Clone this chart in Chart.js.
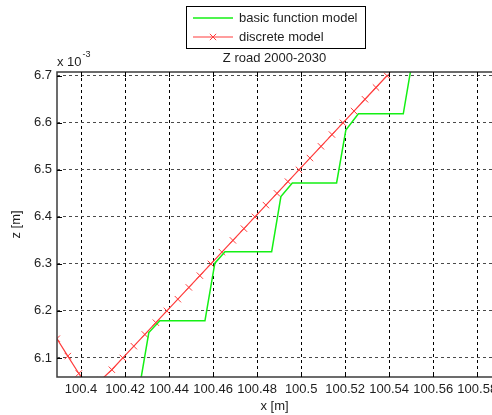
<!DOCTYPE html>
<html>
<head>
<meta charset="utf-8">
<title>Z road 2000-2030</title>
<script src="https://cdn.jsdelivr.net/npm/chart.js@4.4.1/dist/chart.umd.min.js"></script>
<style>
  html, body { margin:0; padding:0; background:#fff; overflow:hidden; }
  #wrap { width:520px; height:415px; }
</style>
</head>
<body>
<div id="wrap"><canvas id="zChart" width="520" height="415"></canvas></div>
<script>
// Road profile z (in 1e-3 m, see the "x 10^-3" multiplier) against chainage x (m).

// basic function model: stepped profile
const basicX = [100.4060, 100.4264, 100.4308, 100.4358, 100.4563, 100.4608, 100.4654, 100.4866,
                100.4908, 100.4960, 100.5161, 100.5203, 100.5260, 100.5464, 100.5506, 100.5556];
const basicZ = [6.033, 6.033, 6.154, 6.179, 6.179, 6.3015, 6.326, 6.326,
                6.443, 6.472, 6.472, 6.5845, 6.619, 6.619, 6.735, 6.762];

// discrete model: one sample every 5 mm
const discreteX = [100.384, 100.389, 100.394, 100.399, 100.404, 100.409, 100.414, 100.419,
                   100.424, 100.429, 100.434, 100.439, 100.444, 100.449, 100.454, 100.459,
                   100.464, 100.469, 100.474, 100.479, 100.484, 100.489, 100.494, 100.499,
                   100.504, 100.509, 100.514, 100.519, 100.524, 100.529, 100.534, 100.539];
const discreteZ = [6.178, 6.141, 6.104, 6.067, 6.030, 6.053, 6.075, 6.100,
                   6.125, 6.150, 6.175, 6.200, 6.225, 6.250, 6.275, 6.300,
                   6.325, 6.350, 6.375, 6.400, 6.425, 6.450, 6.475, 6.500,
                   6.525, 6.550, 6.575, 6.600, 6.625, 6.650, 6.675, 6.700];

// axes (zoomed view)
const X_MIN = 100.38909, X_MAX = 100.5867;
const Y_MIN = 6.0595, Y_MAX = 6.708;
const xTicks = [100.4, 100.42, 100.44, 100.46, 100.48, 100.5, 100.52, 100.54, 100.56, 100.58];
const xTickLabels = ['100.4', '100.42', '100.44', '100.46', '100.48', '100.5', '100.52', '100.54', '100.56', '100.58'];
const yTicks = [6.1, 6.2, 6.3, 6.4, 6.5, 6.6, 6.7];
const yTickLabels = ['6.1', '6.2', '6.3', '6.4', '6.5', '6.6', '6.7'];

const GREEN = '#14f014';
const RED = '#ff3c3c';
const TXT = '#1e1e1e';
const FONT_FAMILY = '"Liberation Sans", Arial, Helvetica, sans-serif';
const font13 = {family: FONT_FAMILY, size: 13};

const toPts = (xs, zs) => xs.map((x, i) => ({x: x, y: zs[i]}));

// matlab-like frame: box, inward ticks, title, exponent and boxed legend
const framePlugin = {
  id: 'matlabFrame',
  afterDatasetsDraw(chart){
    const {ctx, chartArea: a, scales} = chart;
    ctx.save();
    ctx.strokeStyle = '#3c3c3c';
    ctx.lineWidth = 1.5;
    // the right edge of the axes box falls just outside the view
    ctx.beginPath();
    ctx.moveTo(a.right + 2, a.top); ctx.lineTo(a.left, a.top);
    ctx.lineTo(a.left, a.bottom); ctx.lineTo(a.right + 2, a.bottom);
    ctx.stroke();
    ctx.lineWidth = 1;
    ctx.strokeStyle = '#000';
    ctx.beginPath();
    scales.x.ticks.forEach(t => {
      const px = Math.round(scales.x.getPixelForValue(t.value)) + 0.5;
      ctx.moveTo(px, a.bottom); ctx.lineTo(px, a.bottom - 5);
      ctx.moveTo(px, a.top); ctx.lineTo(px, a.top + 5);
    });
    scales.y.ticks.forEach(t => {
      const py = Math.round(scales.y.getPixelForValue(t.value)) + 0.5;
      ctx.moveTo(a.left, py); ctx.lineTo(a.left + 5, py);
    });
    ctx.stroke();
    ctx.restore();
  },
  afterDraw(chart){
    const {ctx, chartArea: a} = chart;
    ctx.save();
    ctx.fillStyle = TXT;
    ctx.font = '13px ' + FONT_FAMILY;
    ctx.textBaseline = 'middle';
    ctx.textAlign = 'center';
    ctx.fillText('Z road 2000-2030', (a.left + a.right) / 2, 58);

    ctx.textAlign = 'left';
    ctx.fillText('x 10', a.left, 62);
    const w = ctx.measureText('x 10').width;
    ctx.font = '9px ' + FONT_FAMILY;
    ctx.fillText('-3', a.left + w + 1, 55);

    // legend
    const lx = 186, ly = 6, lw = 179, lh = 42;
    ctx.fillStyle = '#fff';
    ctx.fillRect(lx, ly, lw, lh);
    ctx.strokeStyle = '#000';
    ctx.lineWidth = 1;
    ctx.strokeRect(lx + 0.5, ly + 0.5, lw, lh);
    const rows = [18, 37];
    chart.data.datasets.forEach((ds, i) => {
      const y = rows[i];
      ctx.strokeStyle = ds.borderColor;
      ctx.lineWidth = ds.borderWidth;
      ctx.beginPath();
      ctx.moveTo(193, y); ctx.lineTo(233, y);
      ctx.stroke();
      if (ds.pointRadius > 0) {
        ctx.lineWidth = 1;
        Chart.helpers.drawPoint(ctx, {pointStyle: ds.pointStyle, radius: ds.pointRadius, borderWidth: 1}, 213, y);
      }
      ctx.fillStyle = TXT;
      ctx.font = '13px ' + FONT_FAMILY;
      ctx.textAlign = 'left';
      ctx.fillText(ds.label, 239, y);
    });
    ctx.restore();
  }
};

const ctx = document.getElementById('zChart').getContext('2d');
new Chart(ctx, {
  type: 'line',
  data: {datasets: [
    {label: 'basic function model', data: toPts(basicX, basicZ), borderColor: GREEN, borderWidth: 1.5,
     pointRadius: 0, tension: 0, fill: false, clip: 0},
    {label: 'discrete model', data: toPts(discreteX, discreteZ), borderColor: RED, borderWidth: 1.2,
     pointStyle: 'crossRot', pointRadius: 4.5, pointBorderWidth: 1, pointBorderColor: RED,
     pointBackgroundColor: RED, tension: 0, fill: false, clip: 0}
  ]},
  options: {
    responsive: false, animation: false, devicePixelRatio: 1, events: [],
    layout: {padding: {top: 72, right: 28, bottom: 0, left: 0}},
    plugins: {legend: {display: false}, tooltip: {enabled: false}},
    scales: {
      x: {
        type: 'linear', min: X_MIN, max: X_MAX,
        afterBuildTicks: s => { s.ticks = xTicks.map(v => ({value: v})); },
        afterFit: s => { s.height = 38; },
        ticks: {callback: (v, i) => xTickLabels[i], color: TXT, font: font13, padding: 5, maxRotation: 0, autoSkip: false},
        grid: {color: '#000', lineWidth: 1, drawTicks: false},
        border: {display: false, dash: [3, 3]},
        title: {display: true, text: 'x [m]', color: TXT, font: font13, padding: {top: 0, bottom: 1}}
      },
      y: {
        type: 'linear', min: Y_MIN, max: Y_MAX,
        afterBuildTicks: s => { s.ticks = yTicks.map(v => ({value: v})); },
        afterFit: s => { s.width = 57; },
        ticks: {callback: (v, i) => yTickLabels[i], color: TXT, font: font13, padding: 5, autoSkip: false},
        grid: {color: '#4a4a4a', lineWidth: 1, drawTicks: false},
        border: {display: false, dash: [3, 3]},
        title: {display: true, text: 'z [m]', color: TXT, font: font13, padding: {top: 9, bottom: 0}}
      }
    }
  },
  plugins: [framePlugin]
});
</script>
</body>
</html>
